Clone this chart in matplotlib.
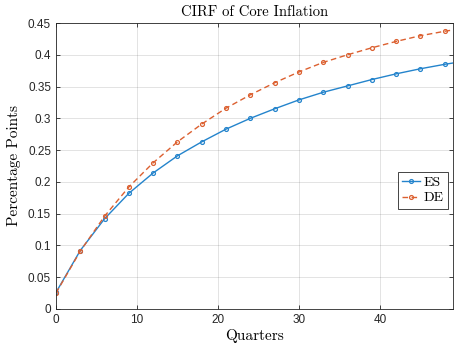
"""
CIRF of core inflation: ES vs DE, cumulative impulse response by quarter.
"""
import numpy as np
import matplotlib
matplotlib.use("Agg")
import matplotlib.pyplot as plt

# ---------- data (markers every 3 quarters) ----------
quarters = [0, 3, 6, 9, 12, 15, 18, 21, 24, 27, 30, 33, 36, 39, 42, 45, 48, 49]
es_cirf = [0.026, 0.092, 0.142, 0.182, 0.214, 0.241, 0.263, 0.283, 0.300,
           0.315, 0.329, 0.341, 0.351, 0.361, 0.370, 0.378, 0.385, 0.387]
de_cirf = [0.025, 0.091, 0.146, 0.192, 0.230, 0.263, 0.291, 0.316, 0.337,
           0.356, 0.373, 0.388, 0.400, 0.411, 0.421, 0.430, 0.437, 0.439]
series_names = ["ES", "DE"]

blue = "#2484cc"
orange = "#dc6030"
axcol = "#262626"
serif = ["cmr10", "DejaVu Serif"]
marks = list(range(17))  # last point (q=49) has no marker

# ---------- plot ----------
fig = plt.figure(figsize=(4.54, 3.46), dpi=100)
ax = fig.add_axes([0.1233, 0.107, 0.874, 0.8265])

ax.plot(quarters, es_cirf, "-o", color=blue, lw=1.0, ms=2.8, mew=0.9,
        mfc="none", markevery=marks, label=series_names[0])
ax.plot(quarters, de_cirf, "--o", color=orange, lw=1.0, ms=2.8, mew=0.9,
        mfc="none", markevery=marks, label=series_names[1], dashes=(4, 2.5))

ax.set_xlim(0, 49)
ax.set_ylim(0, 0.45)
ax.set_xticks([0, 10, 20, 30, 40])
ax.set_yticks(np.arange(0, 0.451, 0.05))
ax.set_yticklabels(["0", "0.05", "0.1", "0.15", "0.2", "0.25", "0.3",
                    "0.35", "0.4", "0.45"])

ax.grid(True, color="#262626", alpha=0.15, lw=0.6)
ax.tick_params(direction="in", length=3, width=0.6, colors=axcol,
               labelsize=8.5, top=True, right=True, labelcolor=axcol)
for t in ax.get_xticklabels() + ax.get_yticklabels():
    t.set_family(["Liberation Sans", "DejaVu Sans"])
for s in ax.spines.values():
    s.set_color(axcol)
    s.set_linewidth(0.6)

ax.set_title("CIRF of Core Inflation", family=serif, fontsize=10.5,
             color="black", pad=5)
ax.set_xlabel("Quarters", family=serif, fontsize=11, labelpad=2)
ax.set_ylabel("Percentage Points", family=serif, fontsize=11, labelpad=5)

leg = ax.legend(loc="upper right", bbox_to_anchor=(0.987, 0.479),
                prop={"family": serif, "size": 10}, fancybox=False,
                framealpha=1, edgecolor=axcol, handlelength=1.3,
                handletextpad=0.25, borderpad=0.3, labelspacing=0.2,
                borderaxespad=0)
leg.get_frame().set_linewidth(0.6)

fig.savefig("out.png", dpi=100)
